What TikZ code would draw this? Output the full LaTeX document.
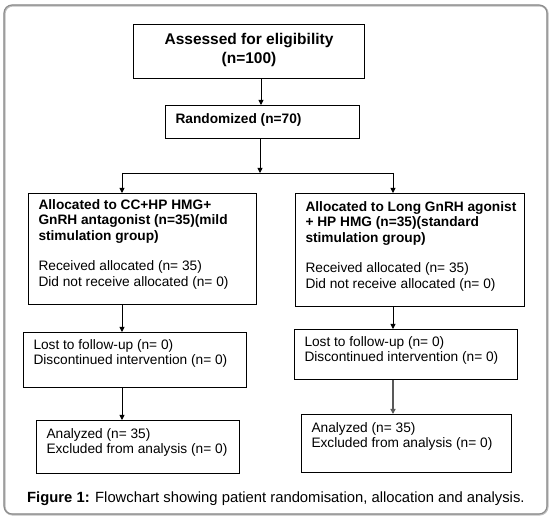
\documentclass[tikz,border=0pt]{standalone}
\usepackage{fontspec}
\setmainfont{Liberation Sans}
\usetikzlibrary{arrows.meta}
\newcommand\flowbox[7]{%
  \node[boxst, minimum width=#4pt, minimum height=#5pt] (#1) at (#2,#3)
   {\begin{minipage}[t][#5pt][t]{#4pt}\raggedright\leftskip=10pt\relax\rule{0pt}{#6pt}#7\end{minipage}};}
\begin{document}
\begin{tikzpicture}[x=1pt,y=-1pt,
  boxst/.style={draw=black, line width=1pt, inner sep=0pt, anchor=north west,
    font=\fontsize{13.7}{15.5}\selectfont},
  arr/.style={-{Triangle[length=5pt,width=5pt]}, line width=0.9pt, draw=black},
  plain/.style={line width=0.9pt, draw=black}]
\useasboundingbox (0,0) rectangle (552,521);
% frame
\draw[black!25, line width=2pt, rounded corners=8pt] (4.6,5.6) rectangle (547.6,514.6);
\draw[black!45, line width=1.1pt, rounded corners=8pt] (4,5) rectangle (547,514);
% boxes
\node[boxst, minimum width=231pt, minimum height=54pt] (b1) at (133,24)
  {\begin{minipage}[t][54pt][t]{231pt}\centering\bfseries\fontsize{15.5}{18.4}\selectfont\rule{0pt}{20.3pt}Assessed for eligibility\\(n=100)\end{minipage}};
\flowbox{b2}{165}{105}{194}{33}{18.3}{\bfseries Randomized (n=70)}
\flowbox{a1}{28}{193}{228}{111}{16}{\textbf{Allocated to CC+HP HMG+}\\\textbf{GnRH antagonist (n=35)(mild}\\\textbf{stimulation group)}\\[15pt]Received allocated (n= 35)\\Did not receive allocated (n= 0)}
\flowbox{a2}{295}{193}{229}{113}{18}{\textbf{Allocated to Long GnRH agonist}\\\textbf{+ HP HMG (n=35)(standard}\\\textbf{stimulation group)}\\[15pt]Received allocated (n= 35)\\Did not receive allocated (n= 0)}
\flowbox{l1}{23}{332}{223}{55}{17}{Lost to follow-up (n= 0)\\Discontinued intervention (n= 0)}
\flowbox{l2}{294}{329}{223}{50}{17}{Lost to follow-up (n= 0)\\Discontinued intervention (n= 0)}
\flowbox{an1}{36}{420}{203}{53}{18}{Analyzed (n= 35)\\Excluded from analysis (n= 0)}
\flowbox{an2}{301}{414}{210}{58}{17.5}{Analyzed (n= 35)\\Excluded from analysis (n= 0)}
% caption
\node[anchor=base west, inner sep=0pt, font=\fontsize{14.8}{17}\selectfont] (cap) at (27,502.5)
  {\textbf{Figure 1:} Flowchart showing patient randomisation, allocation and analysis.};
% connectors
\coordinate (x1) at (261,0);
\coordinate (j) at (260,173);
\coordinate (jl) at (122,173);
\coordinate (jr) at (393,173);
\coordinate (xr) at (393,0);
\draw[arr] (b1.south -| x1) -- (b2.north -| x1);
\draw[arr] (b2.south -| j) -- (j);
\draw[plain] (jl) -- (jr);
\draw[arr] (jl) -- (a1.north -| jl);
\draw[arr] (jr) -- (a2.north -| jr);
\draw[arr] (a1.south -| jl) -- (l1.north -| jl);
\draw[arr] (l1.south -| jl) -- (an1.north -| jl);
\draw[arr] (a2.south -| xr) -- (l2.north -| xr);
\draw[arr, draw=black!65, fill=black!65, line width=1.3pt] (l2.south -| xr) -- (an2.north -| xr);
\end{tikzpicture}
\end{document}
